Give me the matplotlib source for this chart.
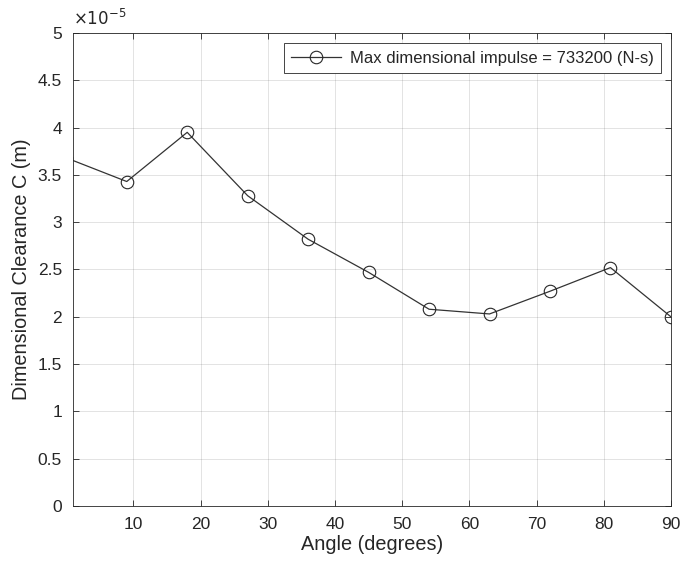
import matplotlib.pyplot as plt
import numpy as np

plt.rcParams['font.family'] = ['Liberation Sans', 'DejaVu Sans']

angle = [0, 9, 18, 27, 36, 45, 54, 63, 72, 81, 90]
# clearance in units of 1e-5 m
clearance = [3.68, 3.43, 3.95, 3.28, 2.82, 2.47, 2.08, 2.03, 2.27, 2.52, 2.00]
label = 'Max dimensional impulse = 733200 (N-s)'

gray = (0.15, 0.15, 0.15)

fig = plt.figure(figsize=(6.86, 5.74), dpi=100)
ax = fig.add_axes([0.1064, 0.1185, 0.8716, 0.824])

ax.plot(angle, clearance, '-o', color=(0.2, 0.2, 0.2), lw=0.9,
        markersize=9, markerfacecolor='none', markeredgecolor=(0.15, 0.15, 0.15),
        markeredgewidth=0.8, label=label)

ax.set_xlim(1, 90)
ax.set_ylim(0, 5)
ax.set_xticks(np.arange(10, 91, 10))
ax.set_yticks(np.arange(0, 5.01, 0.5))
ax.set_yticklabels(['0', '0.5', '1', '1.5', '2', '2.5', '3', '3.5', '4', '4.5', '5'])

ax.grid(True, color=(0.15, 0.15, 0.15), alpha=0.15, lw=0.6)
ax.tick_params(direction='in', length=4, width=0.6, colors=gray, labelsize=12.5,
               top=True, right=True, labeltop=False, labelright=False, pad=8)
for s in ax.spines.values():
    s.set_color(gray)
    s.set_linewidth(0.6)

ax.set_xlabel('Angle (degrees)', fontsize=14.3, color=gray, labelpad=2)
ax.set_ylabel('Dimensional Clearance C (m)', fontsize=14.3, color=gray, labelpad=5)
ax.text(0, 1.01, r'$\times10^{-5}$', transform=ax.transAxes, fontsize=12,
        color=gray, ha='left', va='bottom')

leg = ax.legend(loc='upper right', fontsize=12, fancybox=False, framealpha=1,
                edgecolor=gray, borderaxespad=0.6, handlelength=3.0,
                borderpad=0.45, handletextpad=0.5)
leg.get_frame().set_linewidth(0.6)
for t in leg.get_texts():
    t.set_color(gray)

fig.savefig('out.png', dpi=100)
